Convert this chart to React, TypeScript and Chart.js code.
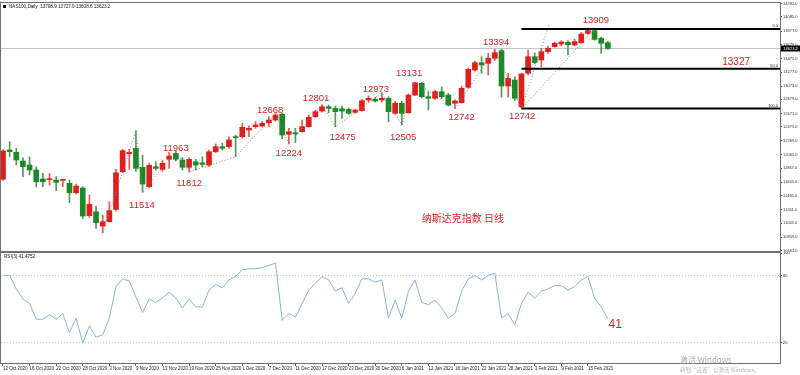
import React, { useEffect, useRef } from 'react';
import { Chart, registerables } from 'chart.js';

Chart.register(...registerables);
Chart.defaults.font.family = '"Liberation Sans", Arial, sans-serif';

// ---------- data ----------
const DATE_LABELS = [
  '12 Oct 2020', '16 Oct 2020', '22 Oct 2020', '28 Oct 2020', '3 Nov 2020', '9 Nov 2020',
  '13 Nov 2020', '19 Nov 2020', '25 Nov 2020', '1 Dec 2020', '7 Dec 2020', '11 Dec 2020',
  '17 Dec 2020', '23 Dec 2020', '30 Dec 2020', '6 Jan 2021', '12 Jan 2021', '18 Jan 2021',
  '22 Jan 2021', '28 Jan 2021', '3 Feb 2021', '9 Feb 2021', '15 Feb 2021',
];
const DATE_STEP = 4; // bars between date labels

const OPEN = [
  11706, 12135, 12101, 11974, 11915, 11842, 11710, 11700, 11695, 11690,
  11647, 11509, 11578, 11173, 11231, 11021, 11085, 11265, 11817, 12081,
  12160, 11881, 11597, 11890, 11852, 11999, 12087, 11989, 11882, 11964,
  11949, 11915, 12110, 12184, 12184, 12330, 12330, 12428, 12477, 12487,
  12536, 12575, 12659, 12365, 12389, 12404, 12477, 12623, 12707, 12770,
  12746, 12740, 12731, 12688, 12712, 12868, 12878, 12868, 12893, 12673,
  12820, 12682, 12941, 13113, 12917, 12893, 12990, 12941, 12820, 12829,
  13054, 13308, 13415, 13406, 13480, 13591, 13073, 13161, 12770, 13260,
  13503, 13455, 13577, 13650, 13689, 13714, 13675, 13708, 13845, 13884,
  13772, 13708.9,
];
const HIGH = [
  12140, 12257, 12160, 12022, 12033, 11890, 11793, 11793, 11744, 11705,
  11695, 11636, 11597, 11476, 11314, 11182, 11378, 11851, 12146, 12146,
  12420, 12058, 11940, 11963, 11988, 12100, 12120, 12027, 12020, 11999,
  12037, 12135, 12223, 12233, 12330, 12355, 12527, 12487, 12551, 12551,
  12623, 12668, 12673, 12453, 12453, 12575, 12648, 12717, 12801, 12795,
  12780, 12780, 12750, 12736, 12878, 12927, 12907, 12973, 12917, 12848,
  12850, 12956, 13131, 13125, 12990, 13010, 13060, 12965, 12870, 13070,
  13338, 13440, 13503, 13553, 13612, 13612, 13260, 13210, 13260, 13601,
  13560, 13626, 13660, 13720, 13738, 13740, 13760, 13860, 13895, 13909,
  13790, 13727.9,
];
const LOW = [
  11690, 12037, 11915, 11744, 11769, 11597, 11597, 11622, 11538, 11597,
  11363, 11490, 11134, 11148, 10987, 10920, 11080, 11240, 11802, 11851,
  11820, 11514, 11580, 11842, 11822, 11866, 11973, 11842, 11812, 11842,
  11890, 11890, 12096, 12135, 12160, 12037, 12307, 12330, 12453, 12477,
  12477, 12560, 12300, 12224, 12242, 12395, 12468, 12612, 12690, 12682,
  12475, 12600, 12660, 12673, 12703, 12839, 12839, 12835, 12550, 12658,
  12505, 12673, 12930, 12900, 12722, 12878, 12893, 12780, 12742, 12820,
  13040, 13290, 13260, 13235, 13450, 12908, 12908, 12860, 12742, 13235,
  13400, 13357, 13550, 13640, 13660, 13528, 13660, 13700, 13830, 13745,
  13553, 13608.6,
];
const CLOSE = [
  12121, 12110, 11989, 11890, 11842, 11670, 11670, 11712, 11661, 11700,
  11509, 11607, 11168, 11339, 11070, 11085, 11246, 11802, 12125, 12101,
  11866, 11636, 11910, 11866, 11940, 12047, 11999, 11882, 11999, 11915,
  11925, 12110, 12184, 12160, 12282, 12316, 12468, 12453, 12502, 12527,
  12575, 12648, 12355, 12404, 12370, 12477, 12615, 12697, 12770, 12746,
  12697, 12705, 12673, 12722, 12858, 12893, 12853, 12893, 12697, 12820,
  12673, 12941, 13122, 12917, 12893, 12990, 12917, 12795, 12854, 13040,
  13318, 13415, 13381, 13480, 13562, 13073, 13185, 12893, 13250, 13503,
  13415, 13577, 13626, 13699, 13718, 13679, 13723, 13836, 13884, 13757,
  13699, 13623.2,
];
const RSI = [
  80, 80, 68, 59, 55, 41, 41, 45, 41, 46,
  29, 42, 20, 35, 25, 27, 42, 70, 77, 75,
  61, 47, 59, 56, 60, 65, 60, 51, 59, 52,
  52, 67, 72, 69, 76, 79, 85, 86, 86, 87,
  89, 91, 40, 46, 43, 55, 67, 73, 79, 76,
  66, 69, 55, 64, 77, 77, 74, 76, 42, 58,
  42, 66, 76, 56, 54, 58, 51, 42, 46, 66,
  77, 80, 76, 80, 82, 42, 46, 36, 55, 65,
  60, 66, 68, 71, 71, 67, 70, 76, 79, 60,
  52, 41.4752,
];

const PRICE_TICKS = [
  14282, 14085, 13877, 13679, 13475, 13277, 13073, 12879, 12671, 12475,
  12269, 12065, 11867, 11663, 11465, 11261, 11063, 10859, 10661,
];
const RSI_TICKS = [100, 80, 20];
const RSI_LEVELS = [80, 20];

// Fibonacci retracement (0 / 50 / 100)
const FIB_LEVELS = [13909, 13327, 12742];
const FIB_TEXT = ['0.0', '50.0', '100.0'];
const FIB_START = 78;

// zigzag / trend lines (bar index, price)
const ZZ_AT = [15, 20, 21, 26, 28, 35, 41, 43, 48, 50, 57, 60, 62, 68, 74, 78, 89];
const ZZ_PRICE = [10920, 12420, 11514, 12120, 11812, 12037, 12668, 12224, 12801, 12475, 12973, 12505, 13131, 12742, 13612, 12742, 13909];
const FAN_AT = [78, 82.2];
const FAN_PRICE = [12742, 13990];

// red annotations (bar index, price anchor)
const NOTE_TEXT = ['11514', '11963', '11812', '12668', '12224', '12801', '12475', '12973', '12505', '13131', '12742', '13394', '12742', '13909'];
const NOTE_AT = [20.9, 26.0, 28.0, 40.2, 43.0, 47.1, 51.1, 56.1, 60.2, 61.1, 69.0, 74.2, 78.1, 89.2];
const NOTE_PRICE = [11329, 12165, 11651, 12722, 12091, 12898, 12326, 13029, 12326, 13264, 12619, 13718, 12634, 14041];
const MID_NOTE = { text: '13327', at: 110.3, price: 13425 };
const TITLE_NOTE = { text: '纳斯达克指数 日线', at: 69.2, price: 11138 };
const RSI_NOTE = { text: '41', at: 92.1, value: 36 };

const HEADER = 'NAS100,Daily  13708.9 13727.9 13608.6 13623.2';
const RSI_HEADER = 'RSI(3) 41.4752';

// ---------- layout constants ----------
const X_MIN = -0.3;
const X_MAX = 116.9;
const PRICE_MIN = 10655;
const PRICE_MAX = 14290;
const RSI_MIN = 2;
const RSI_MAX = 100;

const UP = '#e11d1d';
const DOWN = '#1d8a28';
const UP_WICK = '#e45858';
const DOWN_WICK = '#4e9a55';
const NOTE_RED = '#d81f1f';

const N = OPEN.length;
const IDX = OPEN.map((_, i) => i);
const LAST = CLOSE[N - 1];

function frame(chart: any) {
  const { ctx, chartArea: a } = chart;
  ctx.save();
  ctx.strokeStyle = '#6f6f6f';
  ctx.lineWidth = 1;
  ctx.strokeRect(a.left - 0.5, a.top - 0.5, a.right - a.left + 1, a.bottom - a.top + 1);
  ctx.restore();
}

const whiteBg = {
  id: 'whiteBg',
  beforeDraw(chart: any) {
    const c = chart.ctx;
    c.save();
    c.fillStyle = '#ffffff';
    c.fillRect(0, 0, chart.width, chart.height);
    c.restore();
  },
};

const mainDeco = {
  id: 'mainDeco',
  afterDraw(chart: any) {
    const { ctx: c, chartArea: a, scales } = chart;
    const xs = scales.x;
    const ys = scales.y;
    frame(chart);
    c.save();
    // header
    c.fillStyle = '#111';
    c.fillRect(3, 5, 3, 3);
    c.font = '4.6px "Liberation Sans", Arial, sans-serif';
    c.textAlign = 'left';
    c.textBaseline = 'middle';
    c.fillText(HEADER, 9, 6.5);
    // swing notes
    c.fillStyle = NOTE_RED;
    c.textAlign = 'center';
    c.font = '9.5px "Liberation Sans", Arial, sans-serif';
    NOTE_TEXT.forEach((t, k) => {
      c.fillText(t, xs.getPixelForValue(NOTE_AT[k]), ys.getPixelForValue(NOTE_PRICE[k]));
    });
    c.font = '10px "Liberation Sans", Arial, sans-serif';
    c.fillText(MID_NOTE.text, xs.getPixelForValue(MID_NOTE.at), ys.getPixelForValue(MID_NOTE.price));
    c.font = '10px "Noto Sans CJK SC", sans-serif';
    c.fillText(TITLE_NOTE.text, xs.getPixelForValue(TITLE_NOTE.at), ys.getPixelForValue(TITLE_NOTE.price));
    // fib level texts
    c.fillStyle = '#222';
    c.font = '4px "Liberation Sans", Arial, sans-serif';
    c.textAlign = 'right';
    c.textBaseline = 'bottom';
    FIB_LEVELS.forEach((v, k) => {
      c.fillText(FIB_TEXT[k], a.right - 2, ys.getPixelForValue(v) - 1);
    });
    // current price box on the axis
    const yp = ys.getPixelForValue(LAST);
    c.fillStyle = '#000';
    c.fillRect(a.right + 1, yp - 3, 19, 6);
    c.fillStyle = '#fff';
    c.textAlign = 'center';
    c.textBaseline = 'middle';
    c.fillText(LAST.toFixed(1), a.right + 10.5, yp);
    c.restore();
  },
};

const rsiDeco = {
  id: 'rsiDeco',
  afterDraw(chart: any) {
    const { ctx: c, scales } = chart;
    const xs = scales.x;
    const ys = scales.y;
    frame(chart);
    c.save();
    c.fillStyle = '#111';
    c.font = '4.6px "Liberation Sans", Arial, sans-serif';
    c.textAlign = 'left';
    c.textBaseline = 'middle';
    c.fillText(RSI_HEADER, 4, 4.5);
    c.fillStyle = NOTE_RED;
    c.textAlign = 'center';
    c.font = '12px "Liberation Sans", Arial, sans-serif';
    c.fillText(RSI_NOTE.text, xs.getPixelForValue(RSI_NOTE.at), ys.getPixelForValue(RSI_NOTE.value));
    // windows activation watermark
    c.textAlign = 'left';
    c.fillStyle = '#a9a9a9';
    c.font = '8px "Noto Sans CJK SC", sans-serif';
    c.fillText('激活 Windows', 680, 107.5);
    c.fillStyle = '#b5b5b5';
    c.font = '5.5px "Noto Sans CJK SC", sans-serif';
    c.fillText('转到“设置”以激活 Windows。', 680, 117.5);
    c.restore();
  },
};

function mainConfig(): any {
  return {
    type: 'bar',
    data: {
      datasets: [
        {
          type: 'line',
          data: [{ x: X_MIN, y: LAST }, { x: X_MAX, y: LAST }],
          borderColor: '#c2c2c2',
          borderWidth: 1,
          pointRadius: 0,
          order: 10,
        },
        {
          type: 'bar',
          data: IDX.map((i) => ({ x: i, y: [LOW[i], HIGH[i]] })),
          backgroundColor: IDX.map((i) => (CLOSE[i] >= OPEN[i] ? UP_WICK : DOWN_WICK)),
          borderWidth: 0,
          barThickness: 1,
          grouped: false,
          order: 6,
        },
        {
          type: 'bar',
          data: IDX.map((i) => ({ x: i, y: [OPEN[i], CLOSE[i]] })),
          backgroundColor: IDX.map((i) => (CLOSE[i] >= OPEN[i] ? UP : DOWN)),
          borderWidth: 0,
          barThickness: 5,
          minBarLength: 1,
          grouped: false,
          order: 5,
        },
        {
          type: 'line',
          data: ZZ_AT.map((x, k) => ({ x, y: ZZ_PRICE[k] })),
          borderColor: '#858585',
          borderWidth: 1,
          borderDash: [1, 2],
          pointRadius: 0,
          order: 2,
        },
        {
          type: 'line',
          data: FAN_AT.map((x, k) => ({ x, y: FAN_PRICE[k] })),
          borderColor: '#858585',
          borderWidth: 1,
          borderDash: [1, 2],
          pointRadius: 0,
          order: 2,
        },
        ...FIB_LEVELS.map((v) => ({
          type: 'line',
          data: [{ x: FIB_START, y: v }, { x: X_MAX, y: v }],
          borderColor: '#000',
          borderWidth: 2,
          pointRadius: 0,
          order: 1,
        })),
      ],
    },
    options: {
      animation: false,
      responsive: false,
      events: [],
      layout: { padding: { top: 3, left: 1, right: 0, bottom: 1 }, autoPadding: false },
      plugins: { legend: { display: false }, tooltip: { enabled: false } },
      scales: {
        x: { type: 'linear', min: X_MIN, max: X_MAX, offset: false, display: false },
        y: {
          position: 'right',
          min: PRICE_MIN,
          max: PRICE_MAX,
          afterBuildTicks: (s: any) => { s.ticks = PRICE_TICKS.map((v) => ({ value: v })); },
          afterFit: (s: any) => { s.width = 20; s.paddingTop = 0; s.paddingBottom = 0; },
          ticks: {
            font: { size: 4, lineHeight: 1 },
            color: '#333',
            padding: 1,
            callback: (v: any) => Number(v).toFixed(1),
          },
          grid: { drawOnChartArea: false, tickLength: 2, color: '#555' },
          border: { display: false },
        },
      },
    },
    plugins: [whiteBg, mainDeco],
  };
}

function rsiConfig(): any {
  return {
    type: 'line',
    data: {
      datasets: [
        {
          data: RSI.map((v, i) => ({ x: i, y: v })),
          borderColor: '#88b3d8',
          borderWidth: 1,
          pointRadius: 0,
          tension: 0,
          order: 0,
        },
        ...RSI_LEVELS.map((v) => ({
          data: [{ x: X_MIN, y: v }, { x: X_MAX, y: v }],
          borderColor: '#c4c4c4',
          borderWidth: 1,
          borderDash: [1, 2],
          pointRadius: 0,
          order: 1,
        })),
      ],
    },
    options: {
      animation: false,
      responsive: false,
      events: [],
      layout: { padding: { top: 1, left: 1, right: 0, bottom: 0 }, autoPadding: false },
      plugins: { legend: { display: false }, tooltip: { enabled: false } },
      scales: {
        x: {
          type: 'linear',
          min: X_MIN,
          max: X_MAX,
          offset: false,
          afterBuildTicks: (s: any) => { s.ticks = DATE_LABELS.map((_, k) => ({ value: k * DATE_STEP })); },
          afterFit: (s: any) => { s.height = 12; s.paddingLeft = 0; s.paddingRight = 0; },
          ticks: {
            autoSkip: false,
            maxRotation: 0,
            minRotation: 0,
            align: 'start',
            padding: 1,
            font: { size: 4.5, lineHeight: 1 },
            color: '#222',
            callback: (_v: any, k: number) => DATE_LABELS[k],
          },
          grid: { drawOnChartArea: false, tickLength: 3, color: '#666' },
          border: { display: false },
        },
        y: {
          position: 'right',
          min: RSI_MIN,
          max: RSI_MAX,
          afterBuildTicks: (s: any) => { s.ticks = RSI_TICKS.map((v) => ({ value: v })); },
          afterFit: (s: any) => { s.width = 20; s.paddingTop = 0; s.paddingBottom = 0; },
          ticks: {
            font: { size: 4, lineHeight: 1 },
            color: '#333',
            padding: 1,
            callback: (v: any) => String(v),
          },
          grid: { drawOnChartArea: false, tickLength: 2, color: '#555' },
          border: { display: false },
        },
      },
    },
    plugins: [whiteBg, rsiDeco],
  };
}

export default function App() {
  const mainRef = useRef<HTMLCanvasElement>(null);
  const rsiRef = useRef<HTMLCanvasElement>(null);

  useEffect(() => {
    document.body.style.margin = '0';
    const c1 = new Chart(mainRef.current as HTMLCanvasElement, mainConfig());
    const c2 = new Chart(rsiRef.current as HTMLCanvasElement, rsiConfig());
    return () => {
      c1.destroy();
      c2.destroy();
    };
  }, []);

  return (
    <div style={{ position: 'fixed', left: 0, top: 0, width: 800, height: 375, background: '#fff' }}>
      <canvas ref={mainRef} width={800} height={252} style={{ position: 'absolute', left: 0, top: 0, display: 'block' }} />
      <canvas ref={rsiRef} width={800} height={123} style={{ position: 'absolute', left: 0, top: 252, display: 'block' }} />
    </div>
  );
}
